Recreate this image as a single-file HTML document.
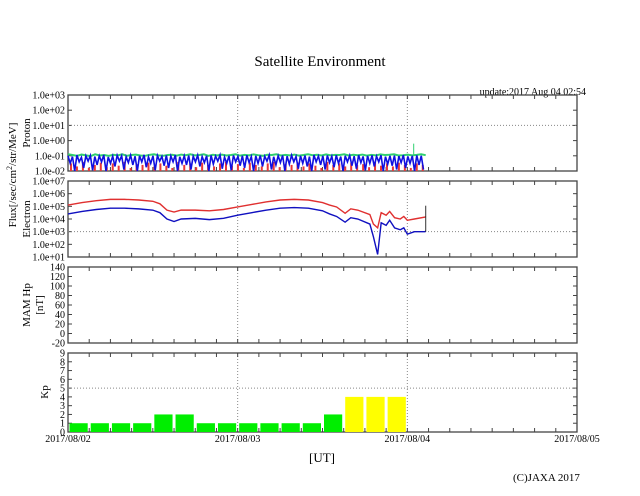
<!DOCTYPE html>
<html><head><meta charset="utf-8"><style>
body{margin:0;background:#fff;}
svg{display:block;font-family:"Liberation Serif",serif;}
</style></head><body>
<svg id="c" width="640" height="496" xmlns="http://www.w3.org/2000/svg">
<text x="320" y="66" font-size="15" text-anchor="middle">Satellite Environment</text>
<text x="586" y="95" font-size="10" text-anchor="end">update:2017 Aug 04 02:54</text>
<text x="322" y="462" font-size="13" text-anchor="middle">[UT]</text>
<text x="513" y="481" font-size="11">(C)JAXA 2017</text>
<text transform="translate(16,175) rotate(-90)" font-size="11" text-anchor="middle">Flux[/sec/cm<tspan dy="-4" font-size="8">2</tspan><tspan dy="4">/str/MeV]</tspan></text>
<text transform="translate(30,133) rotate(-90)" font-size="11" text-anchor="middle">Proton</text>
<text transform="translate(30,219) rotate(-90)" font-size="11" text-anchor="middle">Electron</text>
<text transform="translate(30,305) rotate(-90)" font-size="11" text-anchor="middle">MAM Hp</text>
<text transform="translate(43,305) rotate(-90)" font-size="11" text-anchor="middle">[nT]</text>
<text transform="translate(48,392) rotate(-90)" font-size="11" text-anchor="middle">Kp</text>
<g id="g"></g>
</svg>
<script>
const dayLabels=["2017/08/02","2017/08/03","2017/08/04","2017/08/05"];
const protonTicks=["1.0e+03","1.0e+02","1.0e+01","1.0e+00","1.0e-01","1.0e-02"];
const electronTicks=["1.0e+07","1.0e+06","1.0e+05","1.0e+04","1.0e+03","1.0e+02","1.0e+01"];
const mamTicks=[140,120,100,80,60,40,20,0,-20];
const kpTicks=[9,8,7,6,5,4,3,2,1,0];
const kpValues=[1,1,1,1,2,2,1,1,1,1,1,1,2,4,4,4];
const elecHours=[0,2,4,6,8,10,12,13,14,15,16,18,20,22,24,26,28,30,32,34,36,37,38,39.2,40,41,42.7,43.2,43.8,44.3,45,45.5,46.2,47,47.5,48,49,50.5,50.6];
const elecRed=[5.1,5.3,5.45,5.55,5.55,5.5,5.4,5.2,4.7,4.55,4.7,4.7,4.65,4.75,4.95,5.15,5.35,5.5,5.55,5.5,5.3,5.1,4.95,4.45,4.8,4.7,4.35,3.6,3.3,4.5,4.3,4.6,4.1,4.0,4.2,3.9,4.0,4.15,4.2];
const elecBlue=[4.4,4.6,4.75,4.85,4.85,4.8,4.7,4.5,4.0,3.8,4.0,4.05,3.95,4.05,4.3,4.5,4.7,4.85,4.9,4.85,4.65,4.4,4.2,3.75,4.1,4.0,3.6,2.6,1.2,3.7,3.5,3.9,3.3,3.15,3.3,2.8,3.0,3.0,3.05];
const protonGreen=[-0.9,-0.95,-1.0,-0.92,-0.97,-1.02,-0.9,-0.98,-0.95,-1.0,-0.93,-0.97,-0.9,-1.0,-0.95,-0.92,-0.98,-1.0,-0.94,-0.9,-0.97,-1.0,-0.95,-0.93,-0.99,-0.92,-0.96,-0.9,-0.97,-0.95,-0.9,-1.0,-0.93,-0.97,-0.92,-0.98,-0.95,-0.9,-0.99,-0.94,-0.97,-0.91,-0.96,-1.0,-0.93,-0.95,-0.9,-0.98,-0.94,-0.97,-0.92,-0.99,-0.95,-0.9,-0.96,-0.93,-0.98,-0.91,-0.97,-0.94,-0.95,-0.9,-0.98,-0.93,-0.96,-0.92,-0.99,-0.94,-0.97,-0.91,-0.95,-0.93,-0.9,-0.98,-0.96,-0.92,-0.97,-0.94,-0.9,-0.96];
const protonGreenSpikeHour=[48.9];
const protonGreenSpikeValue=[-0.2];
const protonBlueHi=[-1.0,-1.05,-0.95,-1.1,-1.0,-0.98,-1.05,-1.0,-0.95,-1.08,-1.02,-0.97,-1.0,-1.06,-0.96,-1.03,-1.0,-0.94,-1.07,-1.0,-0.98,-1.04,-0.97,-1.01,-0.95,-1.06,-1.0,-0.98,-1.03,-0.96,-1.05,-1.0,-0.97,-1.02,-0.95,-1.08,-1.0,-0.97,-1.04,-0.99,-0.96,-1.05,-1.0,-0.98,-1.03,-0.95,-1.06,-1.0,-0.97,-1.02,-0.96,-1.04,-1.0,-0.98,-1.05,-0.95,-1.02,-1.0,-0.97,-1.03,-0.96,-1.05,-1.0,-0.98,-1.02,-0.95,-1.04,-1.0,-0.97,-1.03,-0.96,-1.05,-1.0,-0.98,-1.02,-0.95,-1.04,-1.0,-0.97,-1.0];
const protonBlueLo=[-1.5,-2.0,-1.4,-1.8,-1.35,-1.95,-1.6,-1.4,-2.0,-1.5,-1.7,-1.35,-1.9,-1.45,-1.6,-2.0,-1.4,-1.75,-1.5,-1.95,-1.35,-1.65,-1.8,-1.4,-2.0,-1.5,-1.6,-1.9,-1.4,-1.7,-1.45,-2.0,-1.55,-1.35,-1.85,-1.5,-1.95,-1.4,-1.65,-1.8,-1.45,-2.0,-1.5,-1.7,-1.35,-1.9,-1.6,-1.45,-2.0,-1.55,-1.4,-1.85,-1.5,-1.7,-2.0,-1.4,-1.6,-1.9,-1.45,-1.75,-1.5,-2.0,-1.4,-1.65,-1.85,-1.45,-1.95,-1.5,-1.7,-1.4,-2.0,-1.55,-1.65,-1.9,-1.45,-1.8,-1.5,-2.0,-1.6,-1.9];
const protonRed=[-1.5,-1.7,-1.4,-1.8,-1.6,-1.45,-1.75,-1.5,-1.65,-1.4,-1.8,-1.55,-1.6,-1.45,-1.7,-1.5,-1.65,-1.8,-1.4,-1.6,-1.5,-1.75,-1.45,-1.6,-1.7,-1.5,-1.4,-1.65,-1.55,-1.8,-1.45,-1.6,-1.7,-1.5,-1.4,-1.75,-1.55,-1.6,-1.45,-1.7,-1.5,-1.65,-1.8,-1.4,-1.6,-1.5,-1.7,-1.45,-1.6,-1.55,-1.75,-1.4,-1.65,-1.5,-1.7,-1.45,-1.6,-1.8,-1.5,-1.6];
const X0=68,X1=577,HOURS=72,END=50.6;
const xs=h=>X0+(X1-X0)*h/HOURS;
const panels=[{t:95,b:171},{t:181,b:257},{t:267,b:343},{t:353,b:432}];
const NS="http://www.w3.org/2000/svg";const G=document.getElementById('g');
function el(tag,a){const e=document.createElementNS(NS,tag);for(const k in a)e.setAttribute(k,a[k]);G.appendChild(e);return e;}
function yLog(p,top,bot,v){return panels[p].t+(top-v)/(top-bot)*(panels[p].b-panels[p].t);}
const tickSets=[protonTicks,electronTicks,mamTicks,kpTicks];
const names=["proton","electron","mam","kp"];
panels.forEach((p,i)=>{
  const ticks=tickSets[i];const n=ticks.length-1;
  for(let d=1;d<3;d++){const l=el('line',{x1:xs(d*24),x2:xs(d*24),y1:p.t,y2:p.b,stroke:'#888','stroke-dasharray':'1,2','stroke-width':1});
    }
  ticks.forEach((t,k)=>{const y=p.t+(p.b-p.t)*k/n;
    const tx=el('text',{x:X0-3,y:y+3.5,'font-size':10,'text-anchor':'end'});tx.textContent=t;
    
    el('line',{x1:X0,x2:X0+4,y1:y,y2:y,stroke:'#444'});el('line',{x1:X1-4,x2:X1,y1:y,y2:y,stroke:'#444'});});
  for(let h=3;h<HOURS;h+=3){el('line',{x1:xs(h),x2:xs(h),y1:p.t,y2:p.t+4,stroke:'#444'});el('line',{x1:xs(h),x2:xs(h),y1:p.b-4,y2:p.b,stroke:'#444'});}
  const r=el('rect',{x:X0,y:p.t,width:X1-X0,height:p.b-p.t,fill:'none',stroke:'#444','stroke-width':1.3});
  
});
function hgrid(p,y){el('line',{x1:X0,x2:X1,y1:y,y2:y,stroke:'#888','stroke-dasharray':'1,2'});}
hgrid(0,yLog(0,3,-2,1));hgrid(1,yLog(1,7,1,3));hgrid(3,yLog(3,9,0,5));
dayLabels.forEach((d,i)=>{const t=el('text',{x:xs(i*24),y:442,'font-size':10,'text-anchor':'middle'});t.textContent=d;
  });
// proton
const bot0=panels[0].b;
function poly(vals,fn,color,name,w){const pts=vals.map((v,i)=>fn(i)+','+v).join(' ');
  const p=el('polyline',{points:pts,fill:'none',stroke:color,'stroke-width':w});}
poly(protonGreen.map(v=>yLog(0,3,-2,v)),i=>xs(END*i/(protonGreen.length-1)),'#30d070','proton-green-series',2);
protonGreenSpikeHour.forEach((h,i)=>{const l=el('line',{x1:xs(h),x2:xs(h),y1:yLog(0,3,-2,-1),y2:yLog(0,3,-2,protonGreenSpikeValue[i]),stroke:'#30d070','stroke-width':1});
  });
protonRed.forEach((v,i)=>{const x=xs(END*(i+0.5)/protonRed.length);
  const l=el('line',{x1:x,x2:x,y1:bot0,y2:yLog(0,3,-2,v),stroke:'#e83838','stroke-width':2});
  });
const bpts=[];protonBlueHi.forEach((v,i)=>{const x=END*(i/(protonBlueHi.length));bpts.push([xs(x),yLog(0,3,-2,v)]);bpts.push([xs(x+END/protonBlueHi.length/2),yLog(0,3,-2,protonBlueLo[i])]);});
const bp=el('polyline',{points:bpts.map(p=>p.join(',')).join(' '),fill:'none',stroke:'#1010e0','stroke-width':1.6});

// electron
poly(elecRed.map(v=>yLog(1,7,1,v)),i=>xs(elecHours[i]),'#e03030','electron-red-series',1.4);
poly(elecBlue.map(v=>yLog(1,7,1,v)),i=>xs(elecHours[i]),'#1010c0','electron-blue-series',1.4);
const sp=el('line',{x1:xs(END),x2:xs(END),y1:yLog(1,7,1,3),y2:yLog(1,7,1,5.05),stroke:'#333'});

// kp
const bw=(X1-X0)/24;
kpValues.forEach((v,i)=>{const y=yLog(3,9,0,v);
  const r=el('rect',{x:X0+i*bw+1.5,y:y,width:bw-3,height:panels[3].b-y,fill:v>=4?'#ffff00':'#00ee00'});
  });
</script>
</body></html>
